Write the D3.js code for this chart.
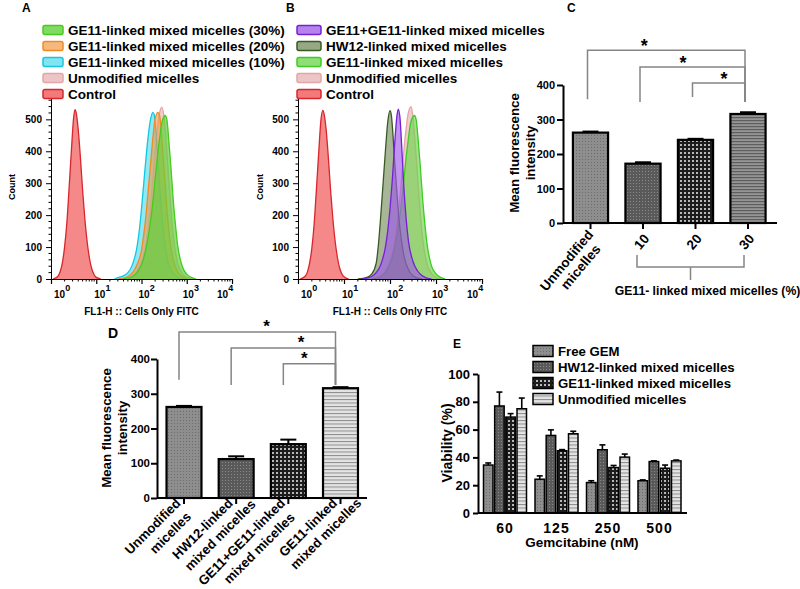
<!DOCTYPE html>
<html><head><meta charset="utf-8">
<script src="https://cdn.jsdelivr.net/npm/d3@7/dist/d3.min.js"></script>
<style>
body{margin:0;background:#fff}
svg{font-family:"Liberation Sans",Arial,Helvetica,sans-serif;font-weight:bold}
</style></head><body>
<svg id="fig" width="800" height="589"></svg>
<script>
// ================= DATA =================
const legendA = ["GE11-linked mixed micelles (30%)","GE11-linked mixed micelles (20%)","GE11-linked mixed micelles (10%)","Unmodified micelles","Control"];
const legendB = ["GE11+GE11-linked mixed micelles","HW12-linked mixed micelles","GE11-linked mixed micelles","Unmodified micelles","Control"];
const countTicks = [0,100,200,300,400,500];
const decades = [0,1,2,3,4];
const histAxisTitle = "FL1-H :: Cells Only FITC";

// histogram curves: [log10 FL1-H, count]
const controlA = [[0.05,0],[0.15,8],[0.2,22],[0.25,50],[0.3,100],[0.35,175],[0.4,285],[0.45,400],[0.5,505],[0.53,530],[0.56,518],[0.6,470],[0.65,380],[0.7,275],[0.75,185],[0.8,115],[0.85,65],[0.9,32],[0.95,14],[1.0,5],[1.1,0]];
const unmodA = [[1.6,0],[1.8,10],[1.9,25],[2.0,55],[2.1,110],[2.15,160],[2.2,230],[2.25,310],[2.3,400],[2.35,470],[2.4,520],[2.45,538],[2.5,505],[2.55,420],[2.6,320],[2.65,220],[2.7,140],[2.75,85],[2.8,50],[2.9,18],[3.0,5],[3.1,0]];
const ge10A = [[1.4,0],[1.5,5],[1.6,10],[1.7,20],[1.8,45],[1.9,100],[1.95,150],[2.0,220],[2.05,300],[2.1,380],[2.15,450],[2.2,500],[2.25,522],[2.28,515],[2.32,460],[2.36,380],[2.4,290],[2.45,200],[2.5,130],[2.55,80],[2.6,45],[2.7,18],[2.8,6],[2.9,0]];
const ge20A = [[1.5,0],[1.7,8],[1.8,20],[1.9,45],[2.0,90],[2.05,140],[2.1,200],[2.15,280],[2.2,360],[2.25,440],[2.3,500],[2.36,522],[2.4,512],[2.45,440],[2.5,340],[2.55,240],[2.6,160],[2.65,100],[2.7,60],[2.8,22],[2.9,8],[3.0,0]];
const ge30A = [[1.6,0],[1.8,8],[1.9,20],[2.0,45],[2.1,95],[2.2,180],[2.25,240],[2.3,310],[2.35,380],[2.4,440],[2.45,490],[2.52,512],[2.56,500],[2.6,440],[2.65,350],[2.7,250],[2.75,170],[2.8,105],[2.9,40],[3.0,15],[3.1,5],[3.2,0]];

const controlB = [[0.05,0],[0.15,8],[0.2,20],[0.25,48],[0.3,95],[0.35,170],[0.4,280],[0.45,395],[0.5,500],[0.54,528],[0.57,515],[0.61,470],[0.66,380],[0.71,275],[0.76,185],[0.81,115],[0.86,65],[0.91,32],[0.96,14],[1.02,5],[1.1,0]];
const unmodB = [[1.6,0],[1.8,10],[1.9,25],[2.0,55],[2.1,110],[2.15,160],[2.2,230],[2.25,310],[2.3,400],[2.35,470],[2.4,522],[2.46,540],[2.5,505],[2.55,420],[2.6,320],[2.65,220],[2.7,140],[2.75,85],[2.8,50],[2.9,18],[3.0,5],[3.1,0]];
const ge11B = [[1.6,0],[1.8,8],[1.9,20],[2.0,45],[2.1,95],[2.2,180],[2.25,240],[2.3,310],[2.35,380],[2.4,440],[2.45,490],[2.53,512],[2.57,498],[2.61,440],[2.66,350],[2.71,250],[2.76,170],[2.81,105],[2.9,42],[3.0,16],[3.1,5],[3.2,0]];
const hw12B = [[1.3,0],[1.5,5],[1.6,15],[1.7,50],[1.75,110],[1.8,200],[1.85,300],[1.9,400],[1.95,490],[2.0,527],[2.03,512],[2.07,440],[2.1,370],[2.15,270],[2.2,180],[2.25,120],[2.3,75],[2.4,30],[2.5,10],[2.6,3],[2.7,0]];
const dualB = [[1.4,0],[1.6,8],[1.7,20],[1.8,45],[1.9,100],[1.95,150],[2.0,220],[2.05,310],[2.1,420],[2.15,510],[2.18,532],[2.22,500],[2.26,400],[2.3,290],[2.35,190],[2.4,120],[2.5,55],[2.6,25],[2.7,10],[2.8,3],[2.9,0]];

// Panel C
const catsC = ["Unmodified micelles","10","20","30"];
const mfiC = [262,172,241,316];
const semC = [3,4,3,5];
const mfiTicks = [0,100,200,300,400];
const groupTitleC = "GE11- linked mixed micelles (%)";

// Panel D
const catsD = ["Unmodified micelles","HW12-linked mixed micelles","GE11+GE11-linked mixed micelles","GE11-linked mixed micelles"];
const mfiD = [262,112,155,316];
const semD = [3,8,13,3];

// Panel E
const doses = ["60","125","250","500"];
const seriesE = ["Free GEM","HW12-linked mixed micelles","GE11-linked mixed micelles","Unmodified micelles"];
const viabFree  = [34.5,24.3,21.9,23.2];
const viabHW12  = [77,55.8,45.5,37];
const viabGE11  = [69,44.8,32.7,32.2];
const viabUnmod = [75,57,40.2,37.5];
const errFree  = [1.5,2.4,1.3,0.6];
const errHW12  = [10,4,3.5,0.5];
const errGE11  = [2.5,0.8,1.5,2.3];
const errUnmod = [7.7,1.8,2.2,0.6];
const viabTicks = [0,20,40,60,80,100];

// ================= DRAW =================
const svg = d3.select("#fig");
const FONT = '"Liberation Sans",Arial,Helvetica,sans-serif';
const defs = svg.append("defs");
function pattern(id, w, h, bg, rects){
  const p = defs.append("pattern").attr("id",id).attr("patternUnits","userSpaceOnUse").attr("width",w).attr("height",h);
  p.append("rect").attr("width",w).attr("height",h).attr("fill",bg);
  rects.forEach(r=>p.append("rect").attr("x",r[0]).attr("y",r[1]).attr("width",r[2]).attr("height",r[3]).attr("fill",r[4]));
}
pattern("pMid",3,3,"#8e8e8e",[[0,0,1,1,"#6c6c6c"]]);
pattern("pDark",3,3,"#5a5a5a",[[0,0,1,1,"#8a8a8a"]]);
pattern("pCheck",4,4,"#1c1c1c",[[0,0,2,2,"#b8b8b8"]]);
pattern("pStripeMid",4,3,"#959595",[[0,0,4,1.2,"#5e5e5e"]]);
pattern("pStripeLight",4,3.5,"#e4e4e4",[[0,0,4,1,"#8c8c8c"]]);

function styleAxis(g, w, fs){
  g.attr("font-family",FONT).attr("font-size",fs).attr("font-weight","bold");
  g.select(".domain").attr("stroke-width",w).attr("stroke","#000");
  g.selectAll(".tick line").attr("stroke-width",w).attr("stroke","#000");
  g.selectAll(".tick text").attr("fill","#000");
}

// ---------- Histograms ----------
const yH = d3.scaleLinear().domain([0,570]).range([279,97]);
function histPanel(x, legend, curves, styles, opt){
  const g = svg.append("g");
  const order = d3.range(curves.length).reverse();
  order.forEach(i=>{
    const area = d3.area().x(d=>x(Math.pow(10,d[0]))).y0(yH(0)).y1(d=>yH(d[1])).curve(d3.curveMonotoneX);
    const line = d3.line().x(d=>x(Math.pow(10,d[0]))).y(d=>yH(d[1])).curve(d3.curveMonotoneX);
    g.append("path").attr("d",area(curves[i])).attr("fill",styles[i].fill).attr("fill-opacity",styles[i].op);
    g.append("path").attr("d",line(curves[i])).attr("fill","none").attr("stroke",styles[i].stroke).attr("stroke-width",1.3);
  });
  const x0 = x.range()[0];
  const ya = g.append("g").attr("transform",`translate(${x0},0)`)
    .call(d3.axisLeft(yH).tickValues(countTicks).tickSize(5).tickSizeOuter(0).tickPadding(4));
  styleAxis(ya,1,10);
  const minors = d3.range(20,570,20).filter(v=>v%100!==0);
  g.selectAll(null).data(minors).join("line").attr("x1",x0-2.5).attr("x2",x0)
    .attr("y1",d=>yH(d)).attr("y2",d=>yH(d)).attr("stroke","#000").attr("stroke-width",1);
  const xa = g.append("g").attr("transform",`translate(0,${yH(0)})`)
    .call(d3.axisBottom(x).tickValues(decades.map(d=>Math.pow(10,d))).tickSize(5).tickSizeOuter(0).tickFormat(""));
  styleAxis(xa,1.2,10);
  const minorX = [];
  decades.slice(0,4).forEach(d=>{for(let k=2;k<=9;k++) minorX.push(k*Math.pow(10,d));});
  g.selectAll(null).data(minorX).join("line").attr("x1",d=>x(d)).attr("x2",d=>x(d))
    .attr("y1",yH(0)).attr("y2",yH(0)+2.5).attr("stroke","#000");
  const labShift = [3,-2,-3,-4,-15];
  decades.forEach((d,i)=>{
    const t = g.append("text").attr("x",x(Math.pow(10,d))+labShift[i]).attr("y",yH(0)+19)
      .attr("font-size",10).attr("font-family",FONT);
    t.append("tspan").text("10");
    t.append("tspan").attr("dy",-7).attr("font-size",9).text(String(d));
  });
  g.append("text").attr("x",(x.range()[0]+x.range()[1])/2).attr("y",yH(0)+36).attr("text-anchor","middle")
    .attr("font-size",10).attr("font-family",FONT).text(histAxisTitle);
  g.append("text").attr("transform",`translate(${opt.countX},187) rotate(-90)`).attr("text-anchor","middle")
    .attr("font-size",9).attr("font-family",FONT).text("Count");
  legend.forEach((lab,i)=>{
    const by = 35 + i*16;
    g.append("rect").attr("x",opt.lx).attr("y",by-9.5).attr("width",opt.lw).attr("height",9).attr("rx",2)
      .attr("fill",styles[i].fill).attr("fill-opacity",Math.min(1,styles[i].op+0.1)).attr("stroke",styles[i].stroke).attr("stroke-width",1.5);
    g.append("text").attr("x",opt.tx).attr("y",by).attr("font-size",13.5).attr("font-family",FONT).text(lab);
  });
  g.append("text").attr("x",opt.letterX).attr("y",12).attr("font-size",12).attr("font-family",FONT).text(opt.letter);
}
const xA = d3.scaleLog().domain([1,1e4]).range([51,232]);
const xB = d3.scaleLog().domain([1,1e4]).range([298,482]);
const stControl = {fill:"#f26b6b",stroke:"#d8262c",op:0.8};
const stUnmod = {fill:"#e6b3b3",stroke:"#e4a5a8",op:0.65};
histPanel(xA, legendA, [ge30A,ge20A,ge10A,unmodA,controlA],
  [{fill:"#62d23c",stroke:"#44cc1e",op:0.7},{fill:"#f29a45",stroke:"#f08b24",op:0.6},{fill:"#55dceb",stroke:"#14c6e0",op:0.65},stUnmod,stControl],
  {lx:43,lw:20,tx:68,letter:"A",letterX:22,countX:15});
histPanel(xB, legendB, [dualB,hw12B,ge11B,unmodB,controlB],
  [{fill:"#9e5ae6",stroke:"#7620d6",op:0.65},{fill:"#5d7a42",stroke:"#3a5a22",op:0.55},{fill:"#6ad448",stroke:"#3ecb22",op:0.65},stUnmod,stControl],
  {lx:297,lw:24,tx:326,letter:"B",letterX:286,countX:263});

// ---------- generic bar panel (C, D) ----------
function multiLabel(g, lines, tx, ty, angle, fs, l2dx, l2dy){
  const gg = g.append("g").attr("transform",`translate(${tx},${ty}) rotate(${angle})`)
    .attr("font-size",fs).attr("font-family",FONT);
  const t1 = gg.append("text").attr("text-anchor","end").text(lines[0]);
  if(lines.length>1){
    const len1 = t1.node().getComputedTextLength();
    gg.append("text").attr("text-anchor","middle").attr("x",-len1/2+l2dx).attr("y",l2dy).text(lines[1]);
  }
}
function splitFirst(s){ const k = s.indexOf(" "); return k<0?[s]:[s.slice(0,k), s.slice(k+1)]; }

function barPanel(o){
  const g = svg.append("g");
  const y = d3.scaleLinear().domain([0,400]).range([o.y0,o.y400]);
  const x = d3.scalePoint().domain(o.cats).range(o.xr);
  const bw = x.step()*0.67;
  g.selectAll(null).data(o.cats).join("rect")
    .attr("x",c=>x(c)-bw/2).attr("y",(c,i)=>y(o.vals[i])).attr("width",bw)
    .attr("height",(c,i)=>y(0)-y(o.vals[i])).attr("fill",(c,i)=>`url(#${o.pats[i]})`)
    .attr("stroke","#000").attr("stroke-width",2.2);
  o.cats.forEach((c,i)=>{
    const top = y(o.vals[i]+o.errs[i]);
    g.append("line").attr("x1",x(c)).attr("x2",x(c)).attr("y1",y(o.vals[i])).attr("y2",top).attr("stroke","#000").attr("stroke-width",2);
    g.append("line").attr("x1",x(c)-8).attr("x2",x(c)+8).attr("y1",top).attr("y2",top).attr("stroke","#000").attr("stroke-width",2);
  });
  const ya = g.append("g").attr("transform",`translate(${o.xl},0)`)
    .call(d3.axisLeft(y).tickValues(mfiTicks).tickSize(6).tickSizeOuter(0).tickPadding(o.tickPad));
  styleAxis(ya,2,o.tickFs);
  g.append("line").attr("x1",o.xl).attr("x2",o.xRight).attr("y1",y(0)).attr("y2",y(0)).attr("stroke","#000").attr("stroke-width",2);
  g.selectAll(null).data(o.cats).join("line").attr("x1",c=>x(c)).attr("x2",c=>x(c))
    .attr("y1",y(0)).attr("y2",y(0)+6).attr("stroke","#000").attr("stroke-width",2);
  o.cats.forEach(c=>{
    const lines = splitFirst(c);
    const off = lines.length>1 ? o.lab2 : o.lab1;
    multiLabel(g, lines, x(c)+off[0], y(0)+off[1], o.angle, o.labFs, o.l2[0], o.l2[1]);
  });
  const yt = g.append("text").attr("transform",`translate(${o.ytx},${o.yty}) rotate(-90)`).attr("text-anchor","middle")
    .attr("font-size",13.3).attr("font-family",FONT);
  yt.append("tspan").attr("x",0).attr("dy",0).text("Mean fluorescence");
  yt.append("tspan").attr("x",0).attr("dy","1.18em").text("intensity");
  const last = o.cats[o.cats.length-1];
  o.brackets.forEach((b,i)=>{
    const xl = x(o.cats[i])-o.bShift, xr = x(last)-o.bShift;
    g.append("path").attr("d",`M${xl},${y(b.foot)}V${y(b.level)}H${xr}V${y(o.rightFoot)}`)
      .attr("fill","none").attr("stroke","#858585").attr("stroke-width",1.5);
    g.append("text").attr("x",xl+(xr-xl)*b.t).attr("y",y(b.level)+o.starDy).attr("text-anchor","middle")
      .attr("font-size",o.starFs).attr("font-family",FONT).text("*");
  });
  g.append("text").attr("x",o.letter[1]).attr("y",o.letter[2]).attr("font-size",o.letter[3]).attr("font-family",FONT).text(o.letter[0]);
  return {g,x,y};
}

// Panel C
const pc = barPanel({cats:catsC, vals:mfiC, errs:semC, pats:["pMid","pDark","pCheck","pStripeMid"],
  y0:223, y400:85, xr:[590.5,748], xl:563, xRight:777, tickFs:11, tickPad:2, angle:-50, labFs:13.5,
  lab1:[7,16], lab2:[3.5,12], l2:[4,15],
  ytx:519, yty:153,
  brackets:[{level:501,foot:359,t:0.36},{level:452,foot:351,t:0.41},{level:406,foot:365,t:0.6}],
  rightFoot:351, bShift:3, starDy:2, starFs:18, letter:["C",567,12,12]});
{
  const x = pc.x, g = pc.g;
  const a = x("10")-6, b = x("30")-4, m = (a+b)/2;
  g.append("path").attr("d",`M${a},255V267H${b}V255M${m},267V280`).attr("fill","none").attr("stroke","#858585").attr("stroke-width",1.5);
  g.append("text").attr("x",m+17).attr("y",295).attr("text-anchor","middle").attr("font-size",12.2).attr("font-family",FONT).text(groupTitleC);
}

// Panel D
barPanel({cats:catsD, vals:mfiD, errs:semD, pats:["pMid","pDark","pCheck","pStripeLight"],
  y0:498, y400:359, xr:[184,340.5], xl:157, xRight:367, tickFs:11.5, tickPad:1, angle:-45, labFs:13.2,
  lab1:[-3,6], lab2:[-2.5,6], l2:[8,17],
  ytx:111, yty:428,
  brackets:[{level:478,foot:340,t:0.56},{level:432,foot:325,t:0.67},{level:386,foot:325,t:0.4}],
  rightFoot:325, bShift:5, starDy:0, starFs:17, letter:["D",108,338,14]});

// ---------- Panel E ----------
{
  const g = svg.append("g");
  const y = d3.scaleLinear().domain([0,100]).range([513,374]);
  const x = d3.scalePoint().domain(doses).range([505,659.5]);
  const xi = d3.scaleBand().domain(seriesE).range([-21.5,21.5]).paddingInner(0.15);
  const vals = [viabFree,viabHW12,viabGE11,viabUnmod];
  const errs = [errFree,errHW12,errGE11,errUnmod];
  const pats = ["pMid","pDark","pCheck","pStripeLight"];
  seriesE.forEach((s,si)=>{
    doses.forEach((d,di)=>{
      const v = vals[si][di], cx = x(d)+xi(s)+xi.bandwidth()/2, top = y(v+errs[si][di]);
      g.append("line").attr("x1",cx).attr("x2",cx).attr("y1",y(v)).attr("y2",top).attr("stroke","#000").attr("stroke-width",1.6);
      g.append("line").attr("x1",cx-3).attr("x2",cx+3).attr("y1",top).attr("y2",top).attr("stroke","#000").attr("stroke-width",1.6);
      g.append("rect").attr("x",x(d)+xi(s)).attr("y",y(v)).attr("width",xi.bandwidth()).attr("height",y(0)-y(v))
        .attr("fill",`url(#${pats[si]})`).attr("stroke","#000").attr("stroke-width",1.5);
    });
  });
  const ya = g.append("g").attr("transform","translate(478,0)")
    .call(d3.axisLeft(y).tickValues(viabTicks).tickSize(5).tickSizeOuter(0).tickPadding(3));
  styleAxis(ya,2,13);
  g.append("line").attr("x1",478).attr("x2",687).attr("y1",y(0)).attr("y2",y(0)).attr("stroke","#000").attr("stroke-width",2);
  doses.forEach(d=>g.append("text").attr("x",x(d)).attr("y",533).attr("text-anchor","middle")
    .attr("font-size",14).attr("letter-spacing",1).attr("font-family",FONT).text(d));
  g.append("text").attr("x",582).attr("y",547).attr("text-anchor","middle").attr("font-size",13.5).attr("font-family",FONT).text("Gemcitabine (nM)");
  g.append("text").attr("transform","translate(452,443) rotate(-90)").attr("text-anchor","middle").attr("font-size",14).attr("font-family",FONT).text("Viability (%)");
  seriesE.forEach((s,i)=>{
    const cy = 351 + i*16;
    g.append("rect").attr("x",533).attr("y",cy-5.5).attr("width",20).attr("height",11).attr("fill",`url(#${pats[i]})`).attr("stroke","#000").attr("stroke-width",1.5);
    g.append("text").attr("x",558).attr("y",cy+5).attr("font-size",13.2).attr("font-family",FONT).text(s);
  });
  g.append("text").attr("x",453).attr("y",348).attr("font-size",12).attr("font-family",FONT).text("E");
}
</script>
</body></html>
